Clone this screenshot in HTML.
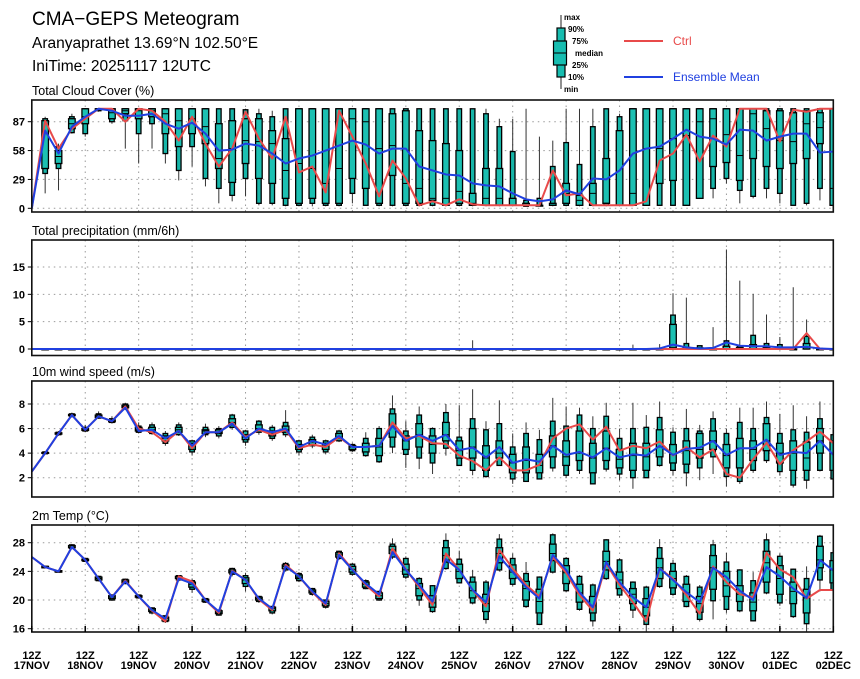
<!DOCTYPE html>
<html><head><meta charset="utf-8">
<style>
html,body{margin:0;padding:0;background:#fff;}
svg{display:block;font-family:"Liberation Sans",sans-serif;}
</style></head>
<body>
<svg id="chart" width="860" height="679" viewBox="0 0 860 679" xmlns="http://www.w3.org/2000/svg">
  <text x="32" y="25" font-size="19" fill="#000">CMA−GEPS Meteogram</text>
  <text x="32" y="48" font-size="15.5" fill="#000">Aranyaprathet 13.69°N 102.50°E</text>
  <text x="32" y="71" font-size="15.5" fill="#000">IniTime: 20251117 12UTC</text>
  <g>
    <line x1="561" y1="15" x2="561" y2="89" stroke="#222" stroke-width="1"/>
    <rect x="557" y="28" width="8" height="49" fill="#17bdb0" stroke="#000" stroke-width="1.2"/>
    <rect x="553.5" y="41" width="13" height="24" fill="#17bdb0" stroke="#000" stroke-width="1.2"/>
    <line x1="553.5" y1="53" x2="566.5" y2="53" stroke="#000" stroke-width="1"/>
    <g font-size="8" font-weight="bold" fill="#000">
      <text x="564" y="20">max</text><text x="568" y="32">90%</text><text x="572" y="44">75%</text>
      <text x="575" y="56">median</text><text x="572" y="68">25%</text><text x="568" y="80">10%</text><text x="564" y="92">min</text>
    </g>
    <line x1="624" y1="41" x2="663" y2="41" stroke="#e84a4a" stroke-width="2"/>
    <text x="673" y="45" font-size="12" fill="#e84a4a">Ctrl</text>
    <line x1="624" y1="77" x2="663" y2="77" stroke="#2040e0" stroke-width="2"/>
    <text x="673" y="81" font-size="12" fill="#2040e0">Ensemble Mean</text>
  </g>
</svg>
<script>
// ---------- DATA ----------
const dayLabels = ["17NOV","18NOV","19NOV","20NOV","21NOV","22NOV","23NOV","24NOV","25NOV","26NOV","27NOV","28NOV","29NOV","30NOV","01DEC","02DEC"];
const cloudTicks = [0,29,58,87];
const precipTicks = [0,5,10,15];
const windTicks = [2,4,6,8];
const tempTicks = [16,20,24,28];

const cloudCtrl = [0,88,60,80,90,100,100,87,100,98,87,68,92,65,42,60,97,70,50,92,36,42,16,98,72,45,12,48,30,3,7,3,9,4,3,3,3,3,3,38,13,15,3,3,3,3,7,48,55,74,47,73,62,100,100,100,67,99,97,100,100];
const cloudMean = [0,78,55,82,92,100,98,93,93,95,85,80,86,75,58,59,65,63,55,45,50,53,58,63,68,64,55,60,60,42,38,34,33,25,23,22,15,9,7,9,18,14,30,29,38,55,60,62,70,79,72,70,64,79,78,68,72,75,75,56,57];
const cloudBoxes = [
[15,35,40,75,88,90,92],[18,40,45,52,58,62,65],[75,76,80,85,90,92,95],[72,75,85,92,100,100,100],[97,98,99,100,100,100,100],
[85,87,90,96,100,100,100],[60,88,95,98,100,100,100],[45,75,90,98,100,100,100],[60,85,92,98,100,100,100],[45,55,75,95,100,100,100],
[28,38,62,88,100,100,100],[42,62,75,90,100,100,100],[22,30,65,82,100,100,100],[5,20,40,50,85,100,100],[7,13,26,60,88,100,100],
[12,30,45,68,90,99,100],[3,5,30,67,90,95,100],[3,5,25,65,78,92,98],[2,3,10,38,70,100,100],[2,3,5,45,100,100,100],
[2,5,10,40,100,100,100],[2,3,5,25,100,100,100],[2,3,5,40,100,100,100],[5,15,30,90,100,100,100],[3,3,20,87,100,100,100],
[2,3,5,60,100,100,100],[2,3,33,63,95,100,100],[2,3,5,25,98,100,100],[2,3,5,20,78,100,100],[2,3,8,10,68,100,100],
[2,3,3,10,65,100,100],[2,3,5,17,58,100,100],[2,3,3,5,15,100,100],[2,3,3,10,40,95,100],[2,3,3,10,40,82,90],
[2,3,3,3,10,57,90],[2,2,3,3,5,8,100],[2,3,3,3,3,10,72],[2,3,3,3,5,42,68],[2,3,5,15,25,66,100],
[2,3,3,8,13,44,100],[2,3,3,15,25,82,100],[2,3,5,5,50,100,100],[2,3,3,3,78,92,95],[3,3,3,15,100,100,100],
[3,3,3,60,100,100,100],[3,3,25,60,100,100,100],[3,3,28,70,100,100,100],[3,3,3,73,100,100,100],[10,10,10,87,100,100,100],
[10,20,42,90,100,100,100],[25,30,46,74,100,100,100],[5,18,28,53,100,100,100],[10,12,50,95,100,100,100],[10,20,42,80,98,100,100],
[5,15,40,68,98,100,100],[3,3,45,67,96,100,100],[3,5,50,85,98,100,100],[8,20,65,81,96,100,100],[3,3,3,20,100,100,100]];

const precipCtrl = [0,0,0,0,0,0,0,0,0,0,0,0,0,0,0,0,0,0,0,0,0,0,0,0,0,0,0,0,0,0,0,0,0,0,0,0,0,0,0,0,0,0,0,0,0,0,0,0,0,0,0,0,0,0,0,0,0,0,2.9,0,0];
const precipMean = [0,0,0,0,0,0,0,0,0,0,0,0,0,0,0,0,0,0,0,0,0,0,0,0,0,0,0,0,0,0,0,0,0,0,0,0,0,0,0,0,0,0,0,0,0,0,0,0.1,0.8,0.3,0.1,0.2,1.2,0.6,0.5,0.5,0.3,0.3,0.4,0.1,0];
const precipBoxes = [
[0,0,0,0,0,0,0],[0,0,0,0,0,0,0],[0,0,0,0,0,0,0],[0,0,0,0,0,0,0],[0,0,0,0,0,0,0],
[0,0,0,0,0,0,0],[0,0,0,0,0,0,0],[0,0,0,0,0,0,0],[0,0,0,0,0,0,0],[0,0,0,0,0,0,0],
[0,0,0,0,0,0,0],[0,0,0,0,0,0,0],[0,0,0,0,0,0,0],[0,0,0,0,0,0,0],[0,0,0,0,0,0,0],
[0,0,0,0,0,0,0],[0,0,0,0,0,0,0],[0,0,0,0,0,0,0],[0,0,0,0,0,0,0],[0,0,0,0,0,0,0],
[0,0,0,0,0,0,0],[0,0,0,0,0,0,0],[0,0,0,0,0,0,0],[0,0,0,0,0,0,0],[0,0,0,0,0,0,0],
[0,0,0,0,0,0,0],[0,0,0,0,0,0,0],[0,0,0,0,0,0,0],[0,0,0,0,0,0,0],[0,0,0,0,0,0,0],
[0,0,0,0,0,0,0],[0,0,0,0,0,0,0],[0,0,0,0,0,0,1.6],[0,0,0,0,0,0,0],[0,0,0,0,0,0,0],
[0,0,0,0,0,0,0],[0,0,0,0,0,0,0],[0,0,0,0,0,0,0],[0,0,0,0,0,0,0],[0,0,0,0,0,0,0],
[0,0,0,0,0,0,0],[0,0,0,0,0,0,0],[0,0,0,0,0,0,0],[0,0,0,0,0,0,0],[0,0,0,0,0,0,0.8],
[0,0,0,0,0,0,0],[0,0,0,0,0,0.1,0.9],[0,0,0,0.3,4.5,6.2,10.2],[0,0,0,0,0.3,1.0,9.4],[0,0,0,0,0.2,0.6,0.6],
[0,0,0,0,0,0.2,4.0],[0,0,0,0,0.5,1.5,18.2],[0,0,0,0,0.3,0.6,12.5],[0,0,0,0,0.8,2.5,10.1],[0,0,0,0,0.3,1.0,6.3],
[0,0,0,0,0.3,0.8,2.2],[0,0,0,0,0,0.2,11.3],[0,0,0,0.3,1.0,2.3,5.4],[0,0,0,0,0,0.1,0.2],[0,0,0,0,0,0,0]];

const windCtrl = [2.5,4.0,5.6,7.1,5.9,7.0,6.6,7.8,6.0,5.7,4.9,5.8,4.4,5.7,5.7,6.5,5.3,5.9,5.5,5.9,4.4,4.7,4.5,5.3,4.5,4.5,4.6,6.5,5.2,5.4,4.8,4.75,3.8,3.35,2.6,3.65,2.6,2.6,3.05,5.2,6.0,6.35,5.1,6.15,4.2,4.6,4.4,4.95,3.8,4.5,3.65,4.3,2.3,2.0,3.5,4.85,3.1,4.25,4.95,5.75,4.8];
const windMean = [2.5,4.0,5.6,7.1,5.9,7.0,6.6,7.7,5.8,5.9,5.2,5.8,4.6,5.7,5.7,6.4,5.2,6.0,5.7,6.0,4.5,5.0,4.7,5.4,4.5,4.5,4.6,6.2,5.0,5.5,5.0,5.5,4.25,4.45,3.65,4.5,3.2,3.5,3.3,4.6,3.85,4.1,3.65,4.4,3.65,3.9,3.8,4.6,3.85,4.35,4.45,5.0,3.85,4.4,4.4,5.1,3.85,4.1,4.0,5.0,3.85];
const windBoxes = [
[3.9,3.95,4.0,4.0,4.05,4.1,4.15],[5.4,5.5,5.55,5.6,5.65,5.7,5.8],[6.9,7.0,7.05,7.1,7.15,7.2,7.3],[5.7,5.8,5.85,5.9,6.0,6.1,6.3],[6.8,6.85,6.9,7.0,7.1,7.2,7.4],
[6.4,6.5,6.55,6.6,6.7,6.8,7.0],[7.5,7.6,7.7,7.8,7.9,8.0,8.1],[5.6,5.7,5.8,5.9,6.1,6.2,6.5],[5.5,5.6,5.7,5.9,6.1,6.3,6.5],[4.6,4.8,5.0,5.2,5.4,5.6,5.8],
[5.4,5.5,5.7,5.9,6.1,6.3,6.5],[3.8,4.1,4.3,4.6,4.8,5.0,5.1],[5.3,5.5,5.6,5.8,5.9,6.1,6.4],[5.2,5.4,5.6,5.7,5.9,6.0,6.2],[5.9,6.1,6.3,6.5,6.8,7.1,7.2],
[4.6,4.9,5.1,5.3,5.5,5.8,5.9],[5.5,5.7,5.9,6.0,6.3,6.6,6.7],[5.0,5.2,5.4,5.6,5.8,6.1,6.3],[5.3,5.5,5.7,5.9,6.2,6.5,7.5],[3.8,4.1,4.3,4.5,4.7,5.0,5.1],
[4.4,4.6,4.7,4.9,5.1,5.3,5.5],[3.9,4.1,4.3,4.6,4.8,5.0,5.1],[4.9,5.0,5.2,5.3,5.6,5.8,5.9],[4.1,4.2,4.3,4.5,4.6,4.7,4.8],[3.7,3.8,4.1,4.5,4.8,5.2,5.7],
[3.2,3.3,3.8,4.5,5.2,6.0,6.2],[4.0,4.5,5.3,6.2,7.2,7.6,8.7],[2.8,3.9,4.3,5.0,5.4,5.8,6.6],[2.7,3.6,4.5,5.5,6.4,7.1,7.8],[2.3,3.2,4.0,4.7,5.4,6.0,6.1],
[3.8,4.4,5.0,5.5,6.5,7.3,8.0],[3.0,3.0,3.6,4.2,5.0,5.3,7.9],[2.2,2.6,3.6,4.5,6.0,6.8,9.2],[2.0,2.1,2.6,3.6,4.6,5.9,6.6],[3.0,3.0,3.6,4.0,5.0,6.4,8.3],
[1.5,1.9,2.4,3.2,3.9,4.5,5.6],[1.7,1.7,2.4,3.4,4.5,5.6,6.5],[1.9,1.9,2.4,3.0,3.9,5.1,5.9],[2.5,2.8,3.7,4.6,5.4,6.6,8.5],[2.0,2.2,3.0,3.7,5.0,6.2,7.8],
[2.3,2.6,3.4,4.0,5.8,7.1,7.7],[1.5,1.5,2.4,3.6,4.8,6.0,7.0],[2.5,2.7,3.4,4.4,5.8,7.0,8.1],[1.8,2.3,2.8,3.5,4.3,5.2,6.0],[1.1,2.0,2.6,3.8,4.8,6.0,8.1],
[2.0,2.0,2.6,3.7,4.8,6.1,7.1],[2.9,3.0,3.7,4.5,5.9,6.9,8.2],[2.2,2.6,3.2,3.9,4.7,5.7,6.1],[1.3,2.4,3.1,4.2,5.0,6.0,7.6],[1.8,2.8,3.6,4.3,5.6,5.8,6.3],
[2.3,3.7,4.3,5.0,5.8,6.8,7.4],[1.3,2.1,2.8,3.8,4.7,5.6,6.0],[1.5,1.7,2.8,4.4,5.2,6.5,7.7],[2.4,2.6,3.4,4.3,5.0,6.0,7.7],[3.2,3.4,4.2,5.0,6.4,6.9,8.2],
[2.2,2.5,3.2,4.0,4.8,5.6,7.2],[1.2,1.4,2.6,4.0,5.0,5.9,7.9],[1.1,1.8,2.6,3.6,4.9,5.7,7.0],[2.5,2.6,4.0,5.0,6.0,6.8,8.2],[1.8,1.9,2.6,4.0,5.0,5.5,5.6]];

const tempCtrl = [26.0,24.6,24.0,27.4,25.6,23.0,20.4,22.7,20.5,18.5,17.0,23.3,22.6,20.0,18.2,24.1,22.8,20.1,18.6,24.9,23.3,21.1,19.3,26.5,24.3,22.1,20.5,27.2,24.3,21.8,19.3,26.5,24.2,21.4,19.1,27.0,24.4,22.1,20.5,26.0,23.8,20.7,18.5,25.1,22.1,19.7,17.0,24.4,23.0,20.7,18.1,24.7,22.5,20.8,20.4,26.6,24.3,23.2,20.2,21.4,21.4];
const tempMean = [26.0,24.6,24.0,27.4,25.6,23.0,20.4,22.6,20.5,18.6,17.4,23.0,22.3,20.0,18.4,24.0,22.8,20.2,18.8,24.7,23.3,21.2,19.5,26.3,24.2,22.3,20.8,26.7,24.2,22.1,19.8,25.7,24.2,21.4,19.7,26.1,23.9,21.8,20.2,26.3,24.2,21.1,19.0,25.3,22.5,20.4,19.0,24.4,22.8,21.1,19.7,24.5,23.2,21.3,20.0,24.6,23.3,21.6,20.3,25.6,24.1];
const tempBoxes = [
[24.4,24.5,24.5,24.6,24.7,24.7,24.8],[23.8,23.9,23.9,24.0,24.1,24.1,24.2],[27.1,27.2,27.3,27.4,27.6,27.7,27.8],[25.3,25.4,25.5,25.6,25.7,25.8,25.9],[22.6,22.7,22.8,23.0,23.2,23.3,23.4],
[19.9,20.0,20.2,20.4,20.6,20.7,20.8],[22.2,22.3,22.4,22.6,22.8,22.9,23.0],[20.2,20.3,20.4,20.5,20.6,20.7,20.8],[18.0,18.2,18.4,18.6,18.8,18.9,19.0],[16.8,17.0,17.1,17.4,17.6,17.8,17.9],
[22.6,22.8,23.0,23.1,23.3,23.4,23.5],[21.0,21.5,21.8,22.2,22.5,22.7,23.0],[19.6,19.7,19.8,20.0,20.1,20.2,20.3],[17.8,17.9,18.1,18.3,18.5,18.6,18.7],[23.3,23.6,23.8,24.0,24.2,24.4,24.5],
[21.2,21.9,22.3,22.8,23.1,23.4,23.8],[19.6,19.8,20.0,20.2,20.4,20.5,20.6],[18.0,18.2,18.5,18.8,19.0,19.1,19.2],[24.0,24.2,24.4,24.7,24.9,25.1,25.3],[22.5,22.7,23.0,23.2,23.5,23.7,23.9],
[20.6,20.8,21.0,21.2,21.4,21.6,21.7],[18.8,19.0,19.2,19.5,19.8,20.0,20.1],[25.6,25.8,26.0,26.3,26.6,26.8,26.9],[23.4,23.6,23.9,24.3,24.7,25.0,25.2],[21.5,21.6,21.8,22.2,22.5,22.7,22.9],
[19.9,20.0,20.2,20.6,21.0,21.2,21.3],[25.7,26.0,26.5,27.0,27.5,27.8,28.6],[22.9,23.2,23.6,24.2,25.0,25.8,26.1],[19.2,20.0,20.6,21.6,22.3,23.0,23.2],[18.2,18.4,19.0,19.6,20.6,22.0,22.1],
[24.2,24.4,25.3,26.2,27.3,28.3,29.3],[22.3,22.4,23.0,24.0,25.0,25.7,26.9],[19.4,19.6,20.3,21.3,22.5,23.2,24.2],[16.7,17.3,18.4,19.5,20.8,22.5,22.8],[24.0,24.2,25.2,26.5,27.3,28.5,29.2],
[22.0,22.2,23.0,23.9,24.9,25.8,26.5],[18.9,19.1,20.0,21.6,22.6,23.7,25.3],[16.5,16.6,18.2,19.8,21.5,23.2,23.3],[23.7,23.9,25.5,26.5,27.8,29.1,29.3],[21.1,21.3,22.3,23.8,24.8,25.8,26.0],
[18.5,18.7,19.7,21.0,22.2,23.3,23.5],[16.3,17.1,18.2,19.2,20.5,22.1,22.3],[22.8,23.0,24.2,25.4,26.8,28.4,28.5],[20.3,20.7,21.6,22.8,23.9,25.6,25.8],[17.5,18.6,19.5,20.8,21.6,22.5,22.6],
[15.6,16.6,17.8,19.0,20.2,21.8,22.0],[21.7,21.9,23.0,24.5,25.8,27.3,28.5],[20.6,20.8,21.7,23.0,24.0,25.1,25.6],[19.0,19.1,19.8,21.0,22.2,23.3,23.5],[17.0,17.3,18.3,19.5,20.5,21.8,22.1],
[17.3,19.9,21.5,24.5,26.2,27.7,28.4],[18.2,18.7,20.5,22.0,24.0,25.3,26.6],[18.3,18.5,19.8,20.8,22.0,24.2,24.3],[17.0,17.1,18.5,19.7,21.0,22.7,23.9],[20.8,21.0,22.5,25.2,26.8,28.4,29.3],
[19.2,19.6,20.8,23.0,24.8,26.1,26.5],[17.5,17.7,19.5,21.2,22.5,24.3,24.4],[15.6,16.7,18.2,20.3,21.5,23.0,24.7],[21.2,22.8,24.5,25.6,27.5,28.9,29.1],[21.2,21.4,22.4,24.2,25.5,26.6,26.8]];

// ---------- LAYOUT ----------
const NS = "http://www.w3.org/2000/svg";
const svg = document.getElementById("chart");
const X0 = 31.8, X1 = 833.3, NSTEP = 60;
function xScale(t){ return X0 + (X1 - X0) * t / NSTEP; }
function linScale(v0, y0, v1, y1){ return v => y0 + (v - v0) * (y1 - y0) / (v1 - v0); }
function mk(tag, attrs, parent){
  const e = document.createElementNS(NS, tag);
  for (const k in attrs) e.setAttribute(k, attrs[k]);
  (parent || svg).appendChild(e);
  return e;
}

const panels = [
  {key:"cloud", title:"Total Cloud Cover (%)", top:100, bottom:212, y:linScale(0,208.3,87,121.7), ticks:cloudTicks, ctrl:cloudCtrl, mean:cloudMean, boxes:cloudBoxes},
  {key:"precip", title:"Total precipitation (mm/6h)", top:240, bottom:355.5, y:linScale(0,349,15,267), ticks:precipTicks, ctrl:precipCtrl, mean:precipMean, boxes:precipBoxes},
  {key:"wind", title:"10m wind speed (m/s)", top:381, bottom:497, y:linScale(2,477.7,8,404), ticks:windTicks, ctrl:windCtrl, mean:windMean, boxes:windBoxes},
  {key:"temp", title:"2m Temp (°C)", top:525, bottom:632, y:linScale(16,628.7,28,542.7), ticks:tempTicks, ctrl:tempCtrl, mean:tempMean, boxes:tempBoxes}
];

panels.forEach((p, pi) => {
  const g = mk("g", {});
  
  
  const title = mk("text", {x:32, y:p.top - 5, "font-size":"12.5", fill:"#000"}, g);
  
  
  title.textContent = p.title;
  const cp = mk("clipPath", {id:"clip" + pi}, g);
  mk("rect", {x:X0, y:p.top, width:X1 - X0, height:p.bottom - p.top}, cp);
  const grid = mk("g", {stroke:"#9a9a9a", "stroke-width":"1", "stroke-dasharray":"1.5,4"}, g);
  
  
  for (let d = 1; d < dayLabels.length - 1; d++) {
    const x = xScale(d * 4);
    mk("line", {x1:x, y1:p.top, x2:x, y2:p.bottom}, grid);
  }
  p.ticks.forEach(v => {
    const y = p.y(v);
    mk("line", {x1:X0, y1:y, x2:X1, y2:y}, grid);
  });
  p.ticks.forEach(v => {
    const y = p.y(v);
    const tl = mk("text", {x:25, y:y + 4, "font-size":"11", "font-weight":"bold", "text-anchor":"end", fill:"#000"}, g);
    
    
    tl.textContent = v;
    mk("line", {x1:X0 - 4, y1:y, x2:X0, y2:y, stroke:"#000", "stroke-width":"1"}, g);
  });
  const clipG = mk("g", {"clip-path":"url(#clip" + pi + ")"}, g);
  p.boxes.forEach((b, i) => {
    const t = i + 1, x = xScale(t);
    const bg = mk("g", {}, clipG);
    
    
    const [mn, p10, p25, md, p75, p90, mx] = b;
    mk("line", {x1:x, y1:p.y(mn), x2:x, y2:p.y(mx), stroke:"#333", "stroke-width":"1"}, bg);
    const y90 = p.y(p90), y10 = p.y(p10), y75 = p.y(p75), y25 = p.y(p25);
    mk("rect", {x:x - 2.3, y:y90, width:4.6, height:Math.max(0.8, y10 - y90), fill:"#17b5a8", stroke:"#000", "stroke-width":"1.3"}, bg);
    mk("rect", {x:x - 3.3, y:y75, width:6.6, height:Math.max(0.8, y25 - y75), fill:"#1cc0b2", stroke:"#000", "stroke-width":"1.3"}, bg);
    mk("line", {x1:x - 3.3, y1:p.y(md), x2:x + 3.3, y2:p.y(md), stroke:"#000", "stroke-width":"1"}, bg);
  });
  const lineOf = arr => arr.map((v, t) => (t ? "L" : "M") + xScale(t).toFixed(2) + "," + p.y(v).toFixed(2)).join("");
  const cl = mk("path", {d:lineOf(p.ctrl), fill:"none", stroke:"#e84a4a", "stroke-width":"2", "stroke-linejoin":"round"}, clipG);
  
  
  const ml = mk("path", {d:lineOf(p.mean), fill:"none", stroke:"#2040e0", "stroke-width":"2", "stroke-linejoin":"round"}, clipG);
  
  
  const fr = mk("rect", {x:X0, y:p.top, width:X1 - X0, height:p.bottom - p.top, fill:"none", stroke:"#111", "stroke-width":"1.6"}, g);
  
  
});

const xa = mk("g", {});


dayLabels.forEach((lab, d) => {
  const x = xScale(d * 4);
  mk("line", {x1:x, y1:632, x2:x, y2:626, stroke:"#000", "stroke-width":"1.5"}, xa);
  const t1 = mk("text", {x:x, y:659, "font-size":"11", "font-weight":"bold", "text-anchor":"middle", fill:"#000"}, xa);
  
  
  t1.textContent = "12Z";
  const t2 = mk("text", {x:x, y:669, "font-size":"11", "font-weight":"bold", "text-anchor":"middle", fill:"#000"}, xa);
  
  
  t2.textContent = lab;
});
</script>
</body></html>
